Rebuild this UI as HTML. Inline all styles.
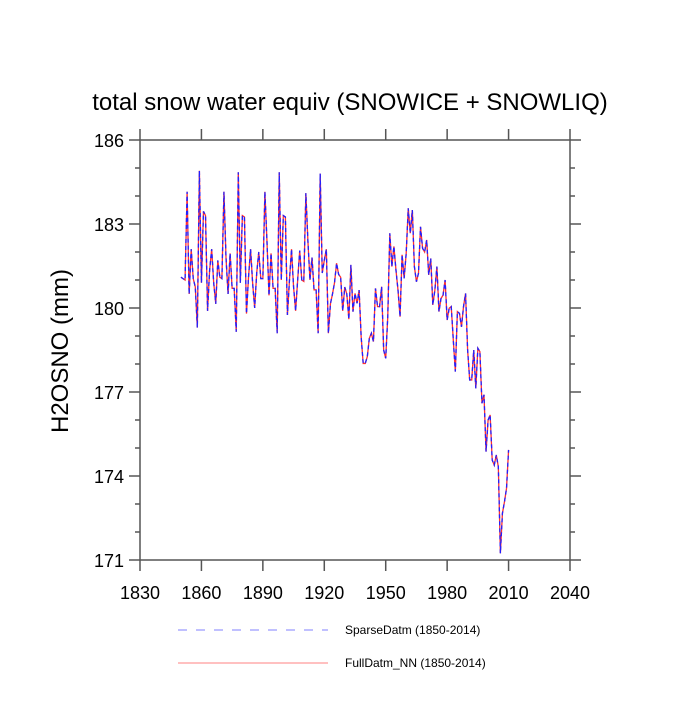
<!DOCTYPE html>
<html><head><meta charset="utf-8"><style>
body{margin:0;background:#fff;}
svg text{font-family:"Liberation Sans",sans-serif;}
</style></head><body>
<svg id="chart" width="700" height="700" viewBox="0 0 700 700">
<text x="350" y="110" text-anchor="middle" font-size="24">total snow water equiv (SNOWICE + SNOWLIQ)</text>
<text transform="translate(68,351) rotate(-90)" text-anchor="middle" font-size="24">H2OSNO  (mm)</text>
<g id="axes"></g>
<g id="series"></g>
<g>
<line x1="178" y1="630" x2="328" y2="630" stroke="#8080ff" stroke-width="1" stroke-dasharray="9,9"/>
<text x="345" y="634" font-size="12">SparseDatm (1850-2014)</text>
<line x1="178" y1="663" x2="328" y2="663" stroke="#ff8080" stroke-width="1"/>
<text x="345" y="667" font-size="12">FullDatm_NN (1850-2014)</text>
</g>
</svg>
<script>
const startYear = 1850;
const fullValues = [181.1,181.05,181.0,184.15,180.5,182.1,181.05,180.75,179.3,184.9,180.9,183.45,183.3,179.9,181.35,182.1,180.9,180.15,181.7,181.1,181.05,184.15,181.8,180.5,181.95,180.7,180.7,179.15,184.85,180.9,183.3,183.25,179.8,181.1,182.1,180.9,180.0,181.25,182.0,181.05,181.05,184.15,182.4,180.45,181.95,180.7,180.7,179.1,184.85,181.0,183.3,183.25,179.75,181.0,182.1,180.75,179.9,181.0,182.05,181.0,180.95,184.1,182.4,181.0,181.8,180.65,180.65,179.1,184.8,181.25,181.7,182.1,179.1,180.15,180.5,180.9,181.6,181.2,181.1,179.9,180.75,180.5,179.6,
181.54,179.87,180.52,180.17,180.64,178.98,178.02,178.02,178.26,178.92,179.1,178.8,180.7,180.05,180.05,180.76,178.5,178.2,179.69,182.67,181.48,182.2,181.36,180.64,179.69,181.9,181.06,181.95,183.56,182.67,183.5,181.48,180.94,181.24,182.9,182.13,182.0,182.43,181.18,181.77,180.11,180.64,181.48,179.87,180.34,180.46,181.0,179.57,179.99,180.05,178.86,177.73,179.87,179.81,179.33,180.05,180.52,178.5,177.43,177.43,178.5,177.13,178.56,178.44,176.6,176.9,174.87,176.0,176.18,174.57,174.39,174.75,174.33,171.24,172.67,173.08,173.56,174.93];
const sparseValues = fullValues.slice();
const xTicks = [1830,1860,1890,1920,1950,1980,2010,2040];
const yTicks = [171,174,177,180,183,186];

const NS="http://www.w3.org/2000/svg";
const L=140,R=570,T=140,B=560;
const xMin=1830,xMax=2040,yMin=171,yMax=186;
function xs(v){return L+(v-xMin)/(xMax-xMin)*(R-L);}
function ys(v){return B-(v-yMin)/(yMax-yMin)*(B-T);}
function mk(tag,attrs,parent){const e=document.createElementNS(NS,tag);for(const k in attrs)e.setAttribute(k,attrs[k]);parent.appendChild(e);return e;}
const ax=document.getElementById('axes');
const frame=mk('rect',{x:L,y:T,width:R-L,height:B-T,fill:'none',stroke:'#555','stroke-width':1.5},ax);


xTicks.forEach(t=>{
  const x=xs(t);
  const a=mk('line',{x1:x,y1:B,x2:x,y2:B+11,stroke:'#555','stroke-width':1.5},ax);
  
  
  const b=mk('line',{x1:x,y1:T,x2:x,y2:T-11,stroke:'#555','stroke-width':1.5},ax);
  
  
  const tx=mk('text',{x:x,y:B+39,'text-anchor':'middle','font-size':18},ax);
  tx.textContent=t;
  
  
});
for(let v=yMin;v<=yMax;v++){
  const y=ys(v);const major=yTicks.includes(v);const len=major?11:5;
  const a=mk('line',{x1:L,y1:y,x2:L-len,y2:y,stroke:'#555','stroke-width':1.5},ax);
  
  
  const b=mk('line',{x1:R,y1:y,x2:R+len,y2:y,stroke:'#555','stroke-width':1.5},ax);
  
  
  if(major){
    const tx=mk('text',{x:L-16,y:y+7,'text-anchor':'end','font-size':18},ax);
    tx.textContent=v;
    
    
  }
}
const sg=document.getElementById('series');
function pts(arr){return arr.map((v,i)=>xs(startYear+i).toFixed(2)+','+ys(v).toFixed(2)).join(' ');}
const full=mk('polyline',{points:pts(fullValues),fill:'none',stroke:'#ff3030','stroke-width':1.3},sg);


const sp=mk('polyline',{points:pts(sparseValues),fill:'none',stroke:'#2020ff','stroke-width':1.3,'stroke-dasharray':'4,3'},sg);


</script>
</body></html>
